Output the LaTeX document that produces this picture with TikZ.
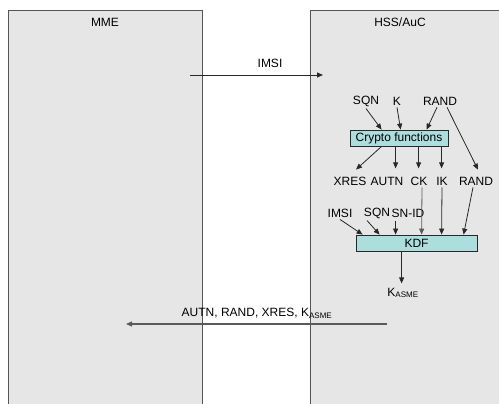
\documentclass[tikz,border=0pt]{standalone}
\usepackage{fontspec}
\setmainfont{Liberation Sans}
\usetikzlibrary{arrows.meta,calc}
\definecolor{boxgray}{RGB}{230,230,230}
\definecolor{edgegray}{RGB}{85,85,85}
\definecolor{linegray}{RGB}{40,40,40}
\definecolor{msggray}{RGB}{90,90,90}
\definecolor{funccyan}{RGB}{172,222,222}
\tikzset{
  lbl/.style={font=\fontsize{12}{14}\selectfont, inner sep=2pt, text=black},
  fbox/.style={draw=linegray, fill=funccyan, line width=0.8pt, minimum height=16pt, inner sep=0pt, font=\fontsize{12}{14}\selectfont},
  arr/.style={draw=linegray, line width=0.8pt, -{Triangle[length=6pt,width=5pt]}},
  msg/.style={draw=msggray, line width=1.1pt, -{Triangle[length=6pt,width=5pt]}},
}
\begin{document}
\begin{tikzpicture}[x=1pt,y=-1pt]
\useasboundingbox (0,0) rectangle (499,404);
\clip (0,0) rectangle (499,404);
% entity boxes
\fill[boxgray] (8,11) rectangle (202,410);
\draw[edgegray, line width=1pt] (8,410) -- (8,11) -- (202,11) -- (202,410);
\fill[boxgray] (310,11) rectangle (505,410);
\draw[edgegray, line width=1pt] (310,410) -- (310,11) -- (505,11);
\node[lbl] (mme) at (105,22) {MME};
\node[lbl] (hss) at (400,22) {HSS/AuC};
% IMSI message
\node[lbl] (imsilbl) at (270,63) {IMSI};
\coordinate (imsiA) at (190,75);
\coordinate (imsiB) at (323,75);
\draw[msg, draw=linegray, line width=0.8pt] (imsiA) -- (imsiB);
% crypto inputs
\node[lbl] (sqn1) at (366,101) {SQN};
\node[lbl] (k) at (397,101) {K};
\node[lbl] (rand1) at (440,101) {RAND};
\node[fbox, minimum width=98pt] (crypto) at (399,138) {Crypto functions};
\draw[arr] (sqn1.south) -- ($(crypto.north west)+(32,0)$);
\draw[arr] (k.south) -- ($(crypto.north west)+(51,0)$);
\draw[arr] ($(rand1.south)+(-3,0)$) -- ($(crypto.north west)+(77,0)$);
% crypto outputs
\node[lbl] (xres) at (350,181) {XRES};
\node[lbl] (autn) at (387,181) {AUTN};
\node[lbl] (ck) at (419,181) {CK};
\node[lbl] (ik) at (442,181) {IK};
\node[lbl] (rand2) at (476,181) {RAND};
\draw[arr] ($(crypto.south west)+(32,0)$) -- ($(xres.north)+(6,-5)$);
\draw[arr] ($(crypto.south west)+(46,0)$) -- ($(crypto.south west)+(46,22)$);
\draw[arr] ($(crypto.south west)+(69,0)$) -- ($(crypto.south west)+(69,22)$);
\draw[arr] ($(crypto.south west)+(92,0)$) -- ($(crypto.south west)+(92,22)$);
\draw[arr] ($(rand1.south)+(7,0)$) -- ($(rand2.north)+(2,-5)$);
% KDF
\node[lbl] (imsi2) at (340,213) {IMSI};
\node[lbl] (sqn2) at (377,213) {SQN};
\node[lbl] (snid) at (408,213) {SN-ID};
\node[fbox, minimum width=121pt] (kdf) at (416.5,243) {KDF};
\draw[arr] (imsi2.south) -- ($(kdf.north west)+(7,0)$);
\draw[arr] ($(sqn2.south)+(-10,0)$) -- ($(kdf.north west)+(24,0)$);
\draw[arr] ($(kdf.north west)+(40,-14)$) -- ($(kdf.north west)+(40,0)$);
\draw[arr, draw=msggray] ($(ck.south)+(3,0)$) -- ($(kdf.north west)+(66,0)$);
\draw[arr] (ik.south) -- ($(kdf.north west)+(86,0)$);
\draw[arr] ($(rand2.south)+(-3,0)$) -- ($(kdf.north west)+(108,0)$);
\node[lbl] (kasme) at (403,293) {K\textsubscript{ASME}};
\draw[arr] ($(kdf.south west)+(46,0)$) -- ($(kdf.south west)+(46,32)$);
% response message
\node[lbl] (resp) at (257,313) {AUTN, RAND, XRES, K\textsubscript{ASME}};
\coordinate (respA) at (387,324);
\coordinate (respB) at (126,324);
\draw[msg] (respA) -- (respB);
\end{tikzpicture}
\end{document}
